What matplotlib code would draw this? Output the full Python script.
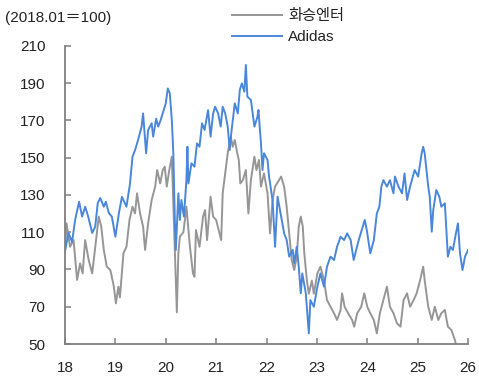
import matplotlib
matplotlib.use("Agg")
import matplotlib.pyplot as plt

plt.rcParams['font.family'] = ['Liberation Sans', 'Noto Sans CJK KR', 'DejaVu Sans']

# Adidas (2018.01 = 100): decimal year, index value
adidas_t = [2018.00, 2018.07, 2018.14, 2018.20, 2018.28, 2018.34, 2018.40, 2018.46, 2018.54, 2018.60,
            2018.65, 2018.70, 2018.77, 2018.81, 2018.87, 2018.93, 2019.00, 2019.07, 2019.13, 2019.22,
            2019.29, 2019.34, 2019.39, 2019.45, 2019.52, 2019.55, 2019.61, 2019.65, 2019.72, 2019.75,
            2019.81, 2019.85, 2019.90, 2019.95, 2020.00, 2020.04, 2020.08, 2020.12, 2020.15, 2020.18,
            2020.20, 2020.25, 2020.28, 2020.31, 2020.36, 2020.41, 2020.43, 2020.45, 2020.51, 2020.57,
            2020.62, 2020.67, 2020.72, 2020.77, 2020.84, 2020.89, 2020.94, 2020.98, 2021.04, 2021.09,
            2021.13, 2021.18, 2021.23, 2021.27, 2021.30, 2021.37, 2021.43, 2021.47, 2021.51, 2021.56,
            2021.59, 2021.62, 2021.69, 2021.76, 2021.82, 2021.84, 2021.89, 2021.92, 2021.95, 2022.02,
            2022.05, 2022.12, 2022.17, 2022.22, 2022.29, 2022.35, 2022.40, 2022.45, 2022.52, 2022.55,
            2022.60, 2022.64, 2022.68, 2022.71, 2022.78, 2022.84, 2022.87, 2022.94, 2023.01, 2023.07,
            2023.14, 2023.20, 2023.27, 2023.34, 2023.40, 2023.47, 2023.54, 2023.60, 2023.67, 2023.73,
            2023.83, 2023.89, 2023.95, 2023.99, 2024.06, 2024.13, 2024.19, 2024.24, 2024.28, 2024.32,
            2024.39, 2024.45, 2024.52, 2024.55, 2024.62, 2024.69, 2024.74, 2024.79, 2024.85, 2024.92,
            2024.94, 2025.01, 2025.08, 2025.11, 2025.14, 2025.21, 2025.24, 2025.28, 2025.31, 2025.37,
            2025.43, 2025.47, 2025.54, 2025.60, 2025.65, 2025.70, 2025.76, 2025.80, 2025.84, 2025.89,
            2025.94, 2026.00]
adidas_v = [100, 109.6, 104.8, 116.5, 126.4, 118.4, 123.7, 118.4, 109.6, 113,
            125.7, 128.4, 123.7, 126.4, 120.3, 118.4, 107.6, 120.3, 129, 123.7,
            136, 150.6, 154, 159.5, 166.7, 173.8, 152.4, 164.9, 168.5, 161.3,
            171, 166.7, 170.3, 174.7, 179.2, 187.2, 184.6, 170.3, 152.4, 116.6,
            100.5, 130.9, 116.6, 127.3, 118.4, 138, 155.9, 136.2, 147, 145.2,
            157.7, 155.9, 168.5, 164.9, 175.6, 161.3, 173.8, 177.4, 173.8, 166.7,
            177.4, 173.8, 166.7, 154.2, 163.1, 179.2, 173.8, 186.4, 189.9, 185.5,
            199.8, 182.8, 181, 166.7, 172, 175.6, 157.7, 143.4, 152.4, 148.8,
            139.9, 127.3, 102.2, 129.1, 118.4, 109.4, 105.8, 96.9, 100.5, 93.3,
            102.2, 91.5, 77.2, 87.9, 77.2, 55.7, 73.6, 70, 80.8, 87.9,
            80.8, 91.5, 96.9, 95.1, 102.2, 107.6, 105.8, 109.4, 105.8, 95.1,
            105.8, 111.2, 116.6, 111.2, 98.7, 105.8, 120.1, 123.7, 134.5, 138,
            134.5, 138, 130.9, 139.9, 134.5, 130.9, 141.6, 127.3, 134.5, 141.6,
            143.4, 139.9, 152.4, 155.9, 152.4, 134.5, 129.1, 110.3, 121.9, 132.7,
            129.1, 123.7, 125.5, 96.9, 102.2, 100.5, 109.4, 114.8, 98.7, 89.7,
            96.9, 100.5]

# Hwaseung Enterprise (2018.01 = 100)
hwaseung_t = [2018.00, 2018.03, 2018.10, 2018.17, 2018.24, 2018.30, 2018.35, 2018.40, 2018.47, 2018.54,
              2018.60, 2018.67, 2018.72, 2018.77, 2018.83, 2018.90, 2018.97, 2019.01, 2019.06, 2019.09,
              2019.16, 2019.22, 2019.28, 2019.34, 2019.39, 2019.43, 2019.49, 2019.55, 2019.59, 2019.65,
              2019.72, 2019.79, 2019.83, 2019.89, 2019.94, 2019.98, 2020.02, 2020.07, 2020.12, 2020.15,
              2020.18, 2020.22, 2020.25, 2020.28, 2020.35, 2020.41, 2020.48, 2020.54, 2020.57, 2020.60,
              2020.67, 2020.74, 2020.78, 2020.82, 2020.89, 2020.94, 2021.00, 2021.05, 2021.10, 2021.13,
              2021.18, 2021.23, 2021.29, 2021.33, 2021.37, 2021.42, 2021.45, 2021.48, 2021.53, 2021.59,
              2021.64, 2021.69, 2021.76, 2021.80, 2021.85, 2021.89, 2021.95, 2022.02, 2022.07, 2022.12,
              2022.17, 2022.29, 2022.35, 2022.40, 2022.45, 2022.50, 2022.55, 2022.60, 2022.64, 2022.68,
              2022.72, 2022.75, 2022.80, 2022.84, 2022.90, 2022.94, 2023.01, 2023.07, 2023.14, 2023.20,
              2023.27, 2023.34, 2023.40, 2023.47, 2023.50, 2023.55, 2023.62, 2023.70, 2023.74, 2023.80,
              2023.88, 2023.94, 2024.00, 2024.06, 2024.13, 2024.19, 2024.25, 2024.32, 2024.39, 2024.45,
              2024.52, 2024.59, 2024.66, 2024.72, 2024.79, 2024.85, 2024.92, 2024.98, 2025.05, 2025.11,
              2025.14, 2025.21, 2025.28, 2025.34, 2025.41, 2025.47, 2025.54, 2025.60, 2025.67, 2025.74,
              2025.77, 2025.85, 2025.95]
hwaseung_v = [99, 114.8, 102.2, 105.8, 84.4, 93.3, 87.9, 105.8, 95.1, 87.9,
              102.2, 118.4, 113, 100.5, 91.5, 89.7, 80.8, 71.8, 80.8, 75,
              98.7, 102.2, 116.6, 123.7, 120.1, 130.9, 120.1, 113, 100.5, 114.8,
              127.3, 134.5, 143.4, 136.2, 143.4, 145.2, 134.5, 143.4, 150.6, 125.5,
              102.2, 67, 98.7, 107.6, 110, 123.7, 102.2, 87.9, 86.1, 111.2,
              102.2, 118.4, 121.9, 105.8, 129.1, 118.4, 116.6, 111.2, 105.8, 130.9,
              141.6, 152.4, 161.3, 155.9, 159.5, 152.4, 148.8, 136.2, 138, 143.4,
              120.1, 138, 150.6, 143.4, 148.8, 134.5, 141.6, 130.9, 109.4, 127.3,
              134.5, 139.9, 134.5, 123.7, 109.4, 95.1, 89.7, 96.9, 113, 118.4,
              113, 98.7, 84.4, 77, 84, 77, 88, 91.5, 84.4, 73.6,
              70, 66.5, 62.9, 68.3, 77.2, 70, 66.5, 62.9, 59.3, 66.5,
              70, 77.2, 70, 66.5, 62.9, 55.7, 66.5, 73.6, 80.8, 70,
              66.5, 61.1, 59.3, 73.6, 77.2, 70, 73.6, 77.2, 84.4, 91.5,
              84, 70, 62.9, 70, 62.9, 66.5, 68.3, 59.3, 57.5, 52.1,
              48.5, 46, 44]

year_ticks = [2018, 2019, 2020, 2021, 2022, 2023, 2024, 2025, 2026]
year_labels = ['18', '19', '20', '21', '22', '23', '24', '25', '26']
y_ticks = [50, 70, 90, 110, 130, 150, 170, 190, 210]

label_gray = '화승엔터'
label_blue = 'Adidas'
note = '(2018.01＝100)'

fig = plt.figure(figsize=(4.79, 3.76), dpi=100)
ax = fig.add_axes([0.1357, 0.0851, 0.8414, 0.7926])

gray_c = '#969696'
blue_c = '#4a87d9'
l1, = ax.plot(hwaseung_t, hwaseung_v, color=gray_c, lw=1.4, label=label_gray)
l2, = ax.plot(adidas_t, adidas_v, color=blue_c, lw=1.4, label=label_blue)

ax.set_xlim(2018, 2026)
ax.set_ylim(50, 210)
ax.set_xticks(year_ticks)
ax.set_xticklabels(year_labels)
ax.set_yticks(y_ticks)
for s in ['top', 'right']:
    ax.spines[s].set_visible(False)
for s in ['left', 'bottom']:
    ax.spines[s].set_color('#808080')
    ax.spines[s].set_linewidth(1.3)
ax.tick_params(direction='in', length=4, width=1.1, color='#808080',
               labelsize=11, labelcolor='#222222')
ax.tick_params(axis='y', pad=14)
ax.tick_params(axis='x', pad=12)

fig.text(0.01, 0.952, note, fontsize=11, color='#222222', va='center', ha='left')
fig.legend(handles=[l1, l2], loc='upper left', bbox_to_anchor=(0.465, 1.0),
           frameon=False, fontsize=11, handlelength=3.3, handletextpad=0.4,
           labelspacing=0.45, borderaxespad=0.2, labelcolor='#222222')

fig.savefig('out.png', dpi=100)
